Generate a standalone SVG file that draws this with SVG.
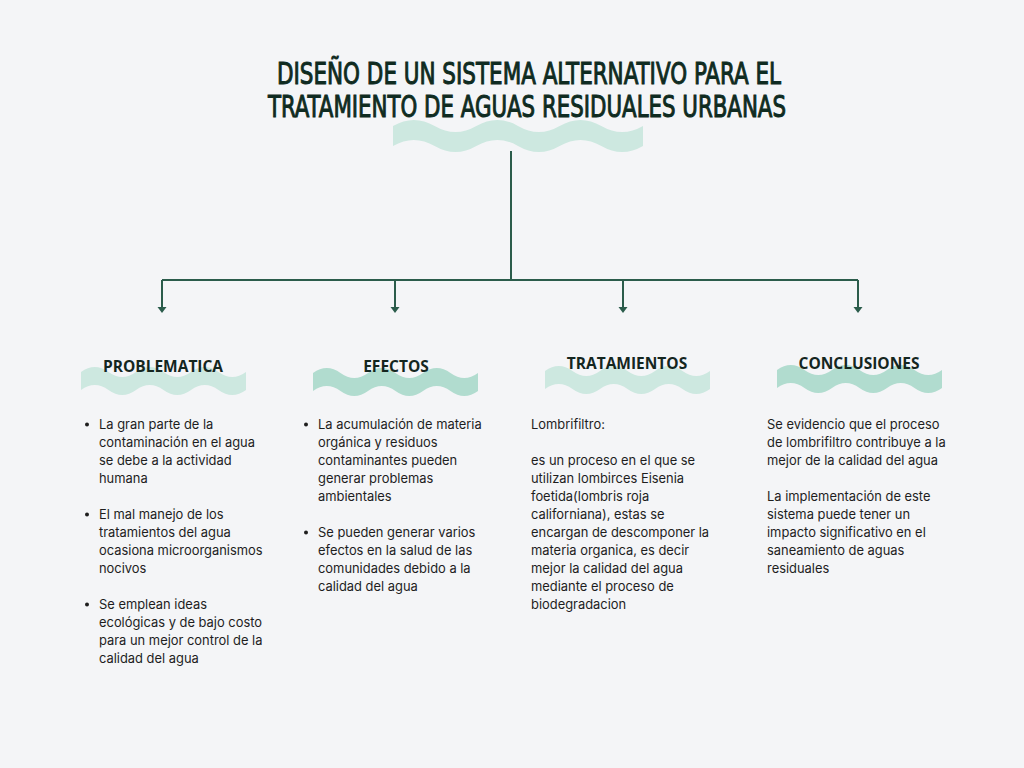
<svg xmlns="http://www.w3.org/2000/svg" width="1024" height="768" viewBox="0 0 1024 768">
<defs>
<style>
.title{font-family:"DejaVu Sans Condensed","DejaVu Sans",sans-serif;font-weight:normal;font-size:31px;fill:#0f2b21;stroke:#0f2b21;stroke-width:1}
.hdr{font-family:"Open Sans","Noto Sans",sans-serif;font-weight:bold;font-size:15.5px;fill:#14261f;text-anchor:middle}
.body{font-family:Inter,"Noto Sans",sans-serif;font-size:12.9px;fill:#1e1e1e}
.conn{stroke:#2b5c4b;stroke-width:2;fill:none}
.w1{fill:#cde8e0}
.w2{fill:#b1dccf}
</style>
<marker id="arr" markerUnits="userSpaceOnUse" markerWidth="8" markerHeight="10" refX="0" refY="0" orient="auto" viewBox="-1 -5 8 10">
<path d="M0,-4.5 L6,0 L0,4.5 Z" fill="#2b5c4b"/>
</marker>
<path id="wave" d="M0,0 Q13.75,-10 27.5,0 T55,0 T82.5,0 T110,0 T137.5,0 T165,0 L165,18 Q151.25,28 137.5,18 T110,18 T82.5,18 T55,18 T27.5,18 T0,18 Z"/>
</defs>
<rect width="1024" height="768" fill="#f4f5f7"/>

<g id="title">
<path class="w1" d="M393,126 Q413.83,114 434.67,126 T476.33,126 T518,126 T559.67,126 T601.33,126 T643,126 L643,146 Q622.17,158 601.33,146 T559.67,146 T518,146 T476.33,146 T434.67,146 T393,146 Z"/>
<text class="title" x="277" y="84" textLength="504" lengthAdjust="spacingAndGlyphs">DISEÑO DE UN SISTEMA ALTERNATIVO PARA EL</text>
<text class="title" x="268" y="117" textLength="518" lengthAdjust="spacingAndGlyphs">TRATAMIENTO DE AGUAS RESIDUALES URBANAS</text>
</g>

<g id="connectors">
<path class="conn" d="M511,151 V280"/>
<path class="conn" d="M162,280 H858"/>
<path class="conn" d="M162,280 V307" marker-end="url(#arr)"/>
<path class="conn" d="M395,280 V307" marker-end="url(#arr)"/>
<path class="conn" d="M623,280 V307" marker-end="url(#arr)"/>
<path class="conn" d="M858,280 V307" marker-end="url(#arr)"/>
</g>

<g id="problematica">
<use href="#wave" class="w1" transform="translate(81,372)"/>
<text class="hdr" x="163" y="372">PROBLEMATICA</text>
<g class="body">
<circle cx="87" cy="424.5" r="2" fill="#1e1e1e"/>
<text x="99" y="429">La gran parte de la</text>
<text x="99" y="447">contaminación en el agua</text>
<text x="99" y="465">se debe a la actividad</text>
<text x="99" y="483">humana</text>
<circle cx="87" cy="514.5" r="2" fill="#1e1e1e"/>
<text x="99" y="519">El mal manejo de los</text>
<text x="99" y="537">tratamientos del agua</text>
<text x="99" y="555">ocasiona microorganismos</text>
<text x="99" y="573">nocivos</text>
<circle cx="87" cy="604.5" r="2" fill="#1e1e1e"/>
<text x="99" y="609">Se emplean ideas</text>
<text x="99" y="627">ecológicas y de bajo costo</text>
<text x="99" y="645">para un mejor control de la</text>
<text x="99" y="663">calidad del agua</text>
</g>
</g>

<g id="efectos">
<use href="#wave" class="w2" transform="translate(313,373)"/>
<text class="hdr" x="396" y="372">EFECTOS</text>
<g class="body">
<circle cx="306" cy="424.5" r="2" fill="#1e1e1e"/>
<text x="318" y="429">La acumulación de materia</text>
<text x="318" y="447">orgánica y residuos</text>
<text x="318" y="465">contaminantes pueden</text>
<text x="318" y="483">generar problemas</text>
<text x="318" y="501">ambientales</text>
<circle cx="306" cy="532.5" r="2" fill="#1e1e1e"/>
<text x="318" y="537">Se pueden generar varios</text>
<text x="318" y="555">efectos en la salud de las</text>
<text x="318" y="573">comunidades debido a la</text>
<text x="318" y="591">calidad del agua</text>
</g>
</g>

<g id="tratamientos">
<use href="#wave" class="w1" transform="translate(545,371)"/>
<text class="hdr" x="627" y="369">TRATAMIENTOS</text>
<g class="body">
<text x="531" y="429">Lombrifiltro:</text>
<text x="531" y="465">es un proceso en el que se</text>
<text x="531" y="483">utilizan lombirces Eisenia</text>
<text x="531" y="501">foetida(lombris roja</text>
<text x="531" y="519">californiana), estas se</text>
<text x="531" y="537">encargan de descomponer la</text>
<text x="531" y="555">materia organica, es decir</text>
<text x="531" y="573">mejor la calidad del agua</text>
<text x="531" y="591">mediante el proceso de</text>
<text x="531" y="609">biodegradacion</text>
</g>
</g>

<g id="conclusiones">
<use href="#wave" class="w2" transform="translate(777,370)"/>
<text class="hdr" x="859" y="369">CONCLUSIONES</text>
<g class="body">
<text x="767" y="429">Se evidencio que el proceso</text>
<text x="767" y="447">de lombrifiltro contribuye a la</text>
<text x="767" y="465">mejor de la calidad del agua</text>
<text x="767" y="501">La implementación de este</text>
<text x="767" y="519">sistema puede tener un</text>
<text x="767" y="537">impacto significativo en el</text>
<text x="767" y="555">saneamiento de aguas</text>
<text x="767" y="573">residuales</text>
</g>
</g>
</svg>
